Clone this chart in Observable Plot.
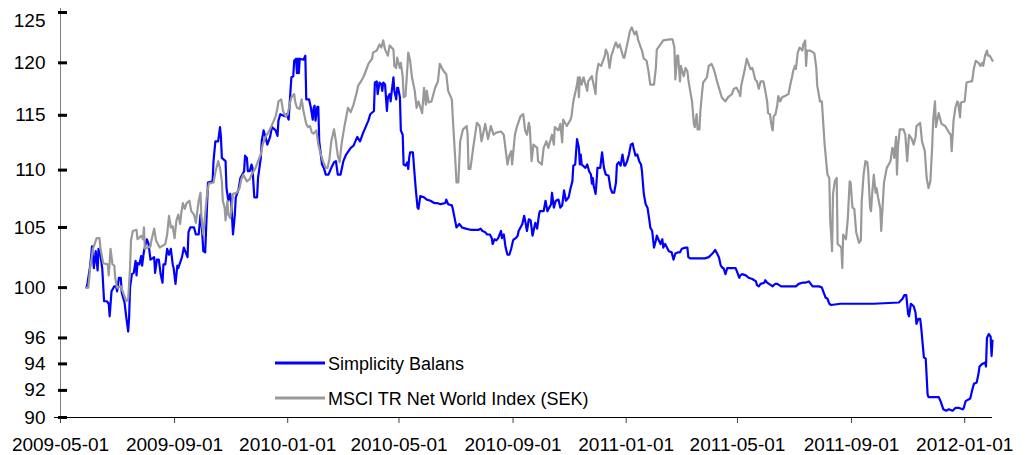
<!DOCTYPE html>
<html><head><meta charset="utf-8">
<script src="https://cdn.jsdelivr.net/npm/d3@7"></script>
<script src="https://cdn.jsdelivr.net/npm/@observablehq/plot@0.6"></script>
<style>
html,body{margin:0;padding:0;background:#fff;}
#chart{width:1029px;height:455px;overflow:hidden;}
</style></head><body><div id="chart"></div>
<script>
// Simplicity Balans (date, index value)
const simplicityBalans = [
["2009-05-29",100.0],["2009-05-30",100.3],["2009-06-02",101.8],["2009-06-04",103.4],["2009-06-06",101.6],["2009-06-08",103.0],["2009-06-10",101.4],["2009-06-11",103.2],["2009-06-13",102.7],["2009-06-15",101.6],
["2009-06-17",98.9],["2009-06-20",98.9],["2009-06-22",98.7],["2009-06-23",97.7],["2009-06-25",99.7],["2009-06-28",100.1],["2009-06-30",100.1],["2009-07-01",99.7],["2009-07-03",100.8],["2009-07-05",100.8],
["2009-07-06",99.6],["2009-07-09",98.8],["2009-07-11",97.6],["2009-07-13",96.5],["2009-07-14",97.6],["2009-07-15",100.0],["2009-07-17",101.1],["2009-07-19",101.2],["2009-07-21",102.2],["2009-07-22",101.0],
["2009-07-23",102.0],["2009-07-25",101.9],["2009-07-27",102.6],["2009-07-28",101.8],["2009-07-30",103.0],["2009-08-02",104.0],["2009-08-04",103.6],["2009-08-06",102.3],["2009-08-10",102.5],["2009-08-11",101.2],
["2009-08-13",102.3],["2009-08-15",102.3],["2009-08-17",101.1],["2009-08-19",100.4],["2009-08-20",101.9],["2009-08-22",101.9],["2009-08-24",103.2],["2009-08-26",102.7],["2009-08-28",103.2],["2009-08-30",101.9],
["2009-08-31",101.6],["2009-09-02",100.3],["2009-09-04",101.8],["2009-09-05",101.6],["2009-09-09",102.5],["2009-09-11",103.3],["2009-09-15",102.5],["2009-09-16",104.6],["2009-09-18",105.0],["2009-09-22",105.0],
["2009-09-24",104.4],["2009-09-27",104.4],["2009-09-29",106.1],["2009-09-30",105.6],["2009-10-02",103.0],["2009-10-04",102.9],["2009-10-07",108.9],["2009-10-12",109.0],["2009-10-13",110.8],["2009-10-15",112.6],
["2009-10-18",112.6],["2009-10-20",113.9],["2009-10-21",113.0],["2009-10-22",111.1],["2009-10-26",110.8],["2009-10-27",108.4],["2009-10-29",107.3],["2009-10-31",107.9],["2009-11-01",107.3],["2009-11-03",104.4],
["2009-11-05",106.1],["2009-11-06",107.6],["2009-11-09",108.3],["2009-11-11",109.3],["2009-11-15",109.9],["2009-11-16",111.3],["2009-11-18",111.1],["2009-11-19",109.9],["2009-11-21",109.9],["2009-11-23",110.5],
["2009-11-24",110.2],["2009-11-26",107.6],["2009-11-29",107.6],["2009-11-30",109.3],["2009-12-03",111.1],["2009-12-04",112.6],["2009-12-06",113.6],["2009-12-08",113.0],["2009-12-10",112.3],["2009-12-13",113.0],
["2009-12-15",113.9],["2009-12-19",113.6],["2009-12-21",113.1],["2009-12-22",114.5],["2009-12-24",115.1],["2009-12-29",114.9],["2009-12-31",115.1],["2010-01-02",114.6],["2010-01-04",117.3],["2010-01-05",118.6],
["2010-01-07",118.7],["2010-01-08",120.2],["2010-01-10",120.4],["2010-01-11",119.0],["2010-01-12",120.4],["2010-01-13",119.0],["2010-01-14",120.4],["2010-01-18",120.3],["2010-01-20",120.7],["2010-01-21",116.5],
["2010-01-24",116.5],["2010-01-26",115.7],["2010-01-28",114.6],["2010-01-29",115.7],["2010-01-30",115.9],["2010-01-31",114.5],["2010-02-02",115.8],["2010-02-03",115.8],["2010-02-04",112.6],["2010-02-07",110.5],
["2010-02-09",110.2],["2010-02-11",109.6],["2010-02-14",109.6],["2010-02-17",110.2],["2010-02-20",110.7],["2010-02-22",110.8],["2010-02-24",109.6],["2010-02-27",109.6],["2010-03-02",110.8],["2010-03-05",111.4],
["2010-03-10",112.0],["2010-03-13",112.2],["2010-03-17",113.0],["2010-03-20",112.6],["2010-03-23",113.3],["2010-03-26",113.9],["2010-03-29",114.5],["2010-03-31",115.1],["2010-04-04",115.4],["2010-04-05",118.1],
["2010-04-07",118.2],["2010-04-08",117.0],["2010-04-10",118.1],["2010-04-12",117.9],["2010-04-13",117.3],["2010-04-14",118.1],["2010-04-16",117.9],["2010-04-18",115.4],["2010-04-19",116.7],["2010-04-21",117.0],
["2010-04-22",116.3],["2010-04-23",117.1],["2010-04-25",118.6],["2010-04-26",117.3],["2010-04-28",116.5],["2010-04-29",117.6],["2010-04-30",117.6],["2010-05-02",116.7],["2010-05-03",113.6],["2010-05-05",113.2],
["2010-05-06",110.5],["2010-05-08",110.4],["2010-05-10",110.7],["2010-05-11",110.1],["2010-05-12",111.1],["2010-05-13",111.6],["2010-05-16",111.6],["2010-05-17",110.5],["2010-05-19",108.4],["2010-05-21",106.7],
["2010-05-22",106.6],["2010-05-24",107.7],["2010-05-28",107.6],["2010-05-31",107.4],["2010-06-04",107.3],["2010-06-08",107.1],["2010-06-11",107.1],["2010-06-15",107.0],["2010-06-20",107.1],["2010-06-21",107.4],
["2010-06-23",107.0],["2010-06-27",106.9],["2010-06-28",106.6],["2010-06-30",105.8],["2010-07-02",105.0],["2010-07-05",105.3],["2010-07-08",105.0],["2010-07-12",104.9],["2010-07-17",104.8],["2010-07-23",104.8],
["2010-07-26",104.8],["2010-07-28",104.9],["2010-07-30",104.7],["2010-08-02",104.6],["2010-08-04",104.4],["2010-08-07",104.4],["2010-08-09",104.1],["2010-08-10",103.6],["2010-08-12",104.0],["2010-08-14",103.9],
["2010-08-16",104.1],["2010-08-19",104.7],["2010-08-20",104.1],["2010-08-22",104.4],["2010-08-24",103.3],["2010-08-26",102.7],["2010-08-28",102.7],["2010-08-30",103.2],["2010-09-01",103.9],["2010-09-02",104.0],
["2010-09-04",104.1],["2010-09-06",104.3],["2010-09-07",104.7],["2010-09-09",105.0],["2010-09-11",105.3],["2010-09-13",106.0],["2010-09-14",105.6],["2010-09-16",104.7],["2010-09-18",105.7],["2010-09-20",105.6],
["2010-09-22",104.3],["2010-09-25",105.4],["2010-09-27",104.9],["2010-09-29",106.1],["2010-09-30",106.4],["2010-10-04",106.4],["2010-10-06",107.3],["2010-10-08",106.4],["2010-10-12",107.0],["2010-10-13",108.0],
["2010-10-15",106.7],["2010-10-17",107.3],["2010-10-20",107.4],["2010-10-22",106.7],["2010-10-24",106.9],["2010-10-26",108.2],["2010-10-28",107.3],["2010-10-31",107.6],["2010-11-02",108.4],["2010-11-04",109.0],
["2010-11-05",110.4],["2010-11-07",110.5],["2010-11-09",112.8],["2010-11-11",112.0],["2010-11-12",110.5],["2010-11-13",111.4],["2010-11-14",110.5],["2010-11-18",110.2],["2010-11-20",110.5],["2010-11-22",109.9],
["2010-11-24",109.6],["2010-11-25",108.8],["2010-11-26",109.3],["2010-11-27",108.6],["2010-11-29",107.9],["2010-11-30",108.9],["2010-12-01",110.2],["2010-12-04",110.2],["2010-12-06",111.6],["2010-12-08",110.2],
["2010-12-10",109.6],["2010-12-13",109.5],["2010-12-15",108.4],["2010-12-17",108.0],["2010-12-19",108.0],["2010-12-21",108.9],["2010-12-22",110.5],["2010-12-24",110.7],["2010-12-26",110.4],["2010-12-28",111.4],
["2010-12-30",110.4],["2010-12-31",110.4],["2011-01-02",110.8],["2011-01-04",111.4],["2011-01-06",112.3],["2011-01-08",112.4],["2011-01-09",112.0],["2011-01-11",111.3],["2011-01-13",111.4],["2011-01-15",110.8],
["2011-01-17",110.5],["2011-01-18",109.9],["2011-01-20",107.9],["2011-01-22",107.0],["2011-01-24",106.7],["2011-01-26",105.6],["2011-01-27",105.0],["2011-01-29",104.7],["2011-01-31",103.3],["2011-02-02",103.9],
["2011-02-03",104.3],["2011-02-07",103.6],["2011-02-09",104.0],["2011-02-10",103.3],["2011-02-12",103.6],["2011-02-16",103.0],["2011-02-19",102.9],["2011-02-21",102.3],["2011-02-23",102.8],["2011-02-26",102.9],
["2011-02-28",102.9],["2011-03-02",103.2],["2011-03-06",103.3],["2011-03-08",103.3],["2011-03-09",102.5],["2011-03-11",102.4],["2011-03-22",102.4],["2011-03-27",102.4],["2011-03-31",102.5],["2011-04-04",102.8],
["2011-04-07",103.1],["2011-04-09",102.8],["2011-04-11",102.5],["2011-04-13",101.8],["2011-04-15",101.6],["2011-04-16",101.6],["2011-04-18",101.1],["2011-04-20",101.6],["2011-04-29",101.6],["2011-04-30",101.4],
["2011-05-03",100.8],["2011-05-04",101.0],["2011-05-06",101.1],["2011-05-10",101.0],["2011-05-13",100.8],["2011-05-17",100.7],["2011-05-21",100.5],["2011-05-22",100.2],["2011-05-24",100.1],["2011-05-26",100.3],
["2011-05-30",100.4],["2011-05-31",100.6],["2011-06-02",100.4],["2011-06-04",100.3],["2011-06-06",100.2],["2011-06-08",100.1],["2011-06-09",100.2],["2011-06-11",100.3],["2011-06-13",100.3],["2011-06-17",100.1],
["2011-07-03",100.1],["2011-07-06",100.3],["2011-07-10",100.4],["2011-07-13",100.4],["2011-07-17",100.5],["2011-07-19",100.3],["2011-07-21",100.1],["2011-07-24",100.1],["2011-07-26",100.1],["2011-07-28",100.1],
["2011-07-31",100.0],["2011-08-02",99.6],["2011-08-04",99.2],["2011-08-06",99.1],["2011-08-08",98.7],["2011-08-10",98.6],["2011-08-20",98.7],["2011-09-25",98.7],["2011-10-22",98.8],["2011-10-26",99.1],
["2011-10-28",99.4],["2011-10-30",99.4],["2011-11-01",97.9],["2011-11-02",97.7],["2011-11-04",98.7],["2011-11-07",98.5],["2011-11-09",98.0],["2011-11-10",97.1],["2011-11-12",97.5],["2011-11-14",97.5],
["2011-11-15",96.9],["2011-11-18",94.5],["2011-11-20",94.4],["2011-11-22",91.7],["2011-11-23",91.5],["2011-12-02",91.5],["2011-12-04",91.5],["2011-12-06",91.2],["2011-12-09",90.6],["2011-12-12",90.5],
["2011-12-15",90.6],["2011-12-19",90.5],["2011-12-22",90.7],["2011-12-26",90.7],["2011-12-30",90.6],["2011-12-31",90.7],["2012-01-02",91.2],["2012-01-07",91.4],["2012-01-09",92.0],["2012-01-11",92.5],
["2012-01-14",92.6],["2012-01-16",93.3],["2012-01-17",93.8],["2012-01-20",94.0],["2012-01-23",94.1],["2012-01-24",93.8],["2012-01-25",96.0],["2012-01-27",96.3],["2012-01-29",96.1],["2012-01-30",94.6],
["2012-01-31",95.8]
];

// MSCI TR Net World Index (SEK) (date, index value)
const msciWorld = [
["2009-05-29",100.0],["2009-05-31",100.0],["2009-06-02",101.6],["2009-06-05",103.2],["2009-06-09",104.1],["2009-06-12",104.1],["2009-06-13",103.3],["2009-06-16",102.0],["2009-06-21",101.9],["2009-06-22",101.0],
["2009-06-24",103.2],["2009-06-26",101.9],["2009-06-28",101.8],["2009-06-29",100.8],["2009-07-01",100.0],["2009-07-05",100.1],["2009-07-08",99.5],["2009-07-11",98.9],["2009-07-13",99.1],["2009-07-15",101.6],
["2009-07-16",103.9],["2009-07-18",104.7],["2009-07-22",104.8],["2009-07-23",104.0],["2009-07-27",104.3],["2009-07-29",104.0],["2009-07-30",105.0],["2009-07-31",103.2],["2009-08-06",103.4],["2009-08-07",103.9],
["2009-08-10",104.9],["2009-08-12",103.9],["2009-08-16",103.3],["2009-08-22",103.6],["2009-08-24",104.4],["2009-08-26",106.0],["2009-08-28",105.0],["2009-08-30",105.1],["2009-09-01",104.1],["2009-09-03",105.6],
["2009-09-05",106.1],["2009-09-07",105.3],["2009-09-08",106.1],["2009-09-10",107.1],["2009-09-12",106.6],["2009-09-14",107.1],["2009-09-17",107.3],["2009-09-19",106.4],["2009-09-22",106.1],["2009-09-24",105.4],
["2009-09-27",107.3],["2009-09-29",108.0],["2009-09-30",105.8],["2009-10-02",104.4],["2009-10-06",107.9],["2009-10-08",108.8],["2009-10-13",108.9],["2009-10-15",109.8],["2009-10-18",110.8],["2009-10-20",110.2],
["2009-10-22",109.0],["2009-10-23",107.3],["2009-10-25",106.7],["2009-10-26",105.6],["2009-10-28",107.3],["2009-10-29",106.1],["2009-10-31",105.8],["2009-11-02",107.0],["2009-11-03",107.9],["2009-11-07",108.0],
["2009-11-10",108.4],["2009-11-12",109.2],["2009-11-14",109.6],["2009-11-18",109.0],["2009-11-21",109.2],["2009-11-23",109.6],["2009-11-27",110.1],["2009-11-30",110.8],["2009-12-03",111.4],["2009-12-05",112.3],
["2009-12-08",113.0],["2009-12-11",113.4],["2009-12-14",113.9],["2009-12-16",114.3],["2009-12-19",114.9],["2009-12-21",115.7],["2009-12-22",116.3],["2009-12-25",116.5],["2009-12-27",115.4],["2009-12-30",114.9],
["2010-01-01",115.1],["2010-01-03",116.0],["2010-01-05",116.7],["2010-01-08",117.0],["2010-01-09",116.3],["2010-01-11",115.7],["2010-01-14",115.6],["2010-01-16",116.5],["2010-01-18",115.4],["2010-01-21",114.2],
["2010-01-23",113.9],["2010-01-25",114.0],["2010-01-27",113.4],["2010-01-29",113.3],["2010-02-01",113.6],["2010-02-03",112.3],["2010-02-05",111.6],["2010-02-08",110.8],["2010-02-11",110.2],["2010-02-13",110.2],
["2010-02-15",111.0],["2010-02-17",112.6],["2010-02-20",113.7],["2010-02-22",112.6],["2010-02-24",111.3],["2010-02-26",110.7],["2010-02-28",112.3],["2010-03-03",113.9],["2010-03-05",114.8],["2010-03-07",115.7],
["2010-03-10",115.3],["2010-03-13",116.0],["2010-03-16",117.0],["2010-03-18",117.8],["2010-03-21",118.2],["2010-03-24",118.7],["2010-03-27",119.4],["2010-03-29",119.9],["2010-04-02",120.4],["2010-04-03",121.0],
["2010-04-07",121.2],["2010-04-10",121.8],["2010-04-12",121.5],["2010-04-14",122.2],["2010-04-16",121.3],["2010-04-19",120.7],["2010-04-21",121.7],["2010-04-25",121.3],["2010-04-26",119.7],["2010-04-28",119.5],
["2010-04-29",120.5],["2010-05-02",119.5],["2010-05-03",120.0],["2010-05-05",118.7],["2010-05-06",116.7],["2010-05-08",116.8],["2010-05-10",119.5],["2010-05-11",121.0],["2010-05-13",120.2],["2010-05-15",118.6],
["2010-05-18",117.3],["2010-05-20",115.7],["2010-05-22",116.3],["2010-05-26",115.2],["2010-05-28",117.6],["2010-05-30",116.0],["2010-05-31",117.3],["2010-06-02",116.2],["2010-06-05",116.3],["2010-06-09",117.6],
["2010-06-12",118.2],["2010-06-14",119.9],["2010-06-18",119.2],["2010-06-21",118.9],["2010-06-23",117.3],["2010-06-27",116.5],["2010-06-28",114.8],["2010-07-01",110.5],["2010-07-02",108.9],["2010-07-04",108.9],
["2010-07-06",112.6],["2010-07-09",113.7],["2010-07-13",114.0],["2010-07-14",113.2],["2010-07-15",110.1],["2010-07-17",110.1],["2010-07-20",112.0],["2010-07-24",114.3],["2010-07-27",114.0],["2010-07-29",112.6],
["2010-08-02",114.2],["2010-08-05",112.8],["2010-08-08",114.0],["2010-08-11",113.2],["2010-08-14",113.4],["2010-08-19",113.5],["2010-08-22",113.2],["2010-08-26",110.5],["2010-08-28",111.3],["2010-08-30",111.7],
["2010-08-31",110.5],["2010-09-03",113.2],["2010-09-05",113.9],["2010-09-09",114.9],["2010-09-12",115.1],["2010-09-14",113.6],["2010-09-16",113.2],["2010-09-18",114.3],["2010-09-19",113.9],["2010-09-21",110.8],
["2010-09-23",112.3],["2010-09-27",112.0],["2010-09-28",110.8],["2010-10-02",110.5],["2010-10-04",112.0],["2010-10-07",112.6],["2010-10-09",112.0],["2010-10-13",113.2],["2010-10-15",112.3],["2010-10-16",113.9],
["2010-10-20",113.6],["2010-10-22",114.2],["2010-10-24",112.5],["2010-10-25",114.6],["2010-10-29",114.0],["2010-11-02",114.6],["2010-11-03",114.9],["2010-11-05",116.3],["2010-11-09",117.9],["2010-11-10",118.6],
["2010-11-11",116.7],["2010-11-12",118.6],["2010-11-14",117.9],["2010-11-16",118.6],["2010-11-20",117.3],["2010-11-21",118.2],["2010-11-25",118.7],["2010-11-29",117.0],["2010-11-30",118.9],["2010-12-02",119.9],
["2010-12-05",119.7],["2010-12-09",120.7],["2010-12-10",121.3],["2010-12-12",120.9],["2010-12-14",119.5],["2010-12-16",120.7],["2010-12-20",121.8],["2010-12-21",122.0],["2010-12-23",121.5],["2010-12-25",121.8],
["2010-12-29",120.5],["2010-12-30",120.5],["2011-01-03",122.2],["2011-01-05",123.1],["2011-01-07",123.5],["2011-01-10",122.8],["2011-01-12",123.1],["2011-01-14",122.2],["2011-01-18",121.2],["2011-01-20",120.4],
["2011-01-23",120.2],["2011-01-25",119.2],["2011-01-27",117.9],["2011-01-31",117.9],["2011-02-02",119.5],["2011-02-03",121.3],["2011-02-07",121.8],["2011-02-10",122.2],["2011-02-17",122.3],["2011-02-20",122.3],
["2011-02-22",121.5],["2011-02-23",118.4],["2011-02-25",120.7],["2011-02-26",120.7],["2011-02-28",118.2],["2011-03-01",119.7],["2011-03-04",118.7],["2011-03-06",119.5],["2011-03-08",119.2],["2011-03-09",118.4],
["2011-03-11",117.3],["2011-03-13",116.3],["2011-03-15",114.2],["2011-03-16",113.9],["2011-03-18",115.1],["2011-03-19",113.7],["2011-03-21",113.7],["2011-03-22",115.4],["2011-03-24",117.3],["2011-03-25",118.1],
["2011-03-29",118.6],["2011-03-31",119.7],["2011-04-03",119.9],["2011-04-05",119.5],["2011-04-07",118.9],["2011-04-09",118.2],["2011-04-12",117.3],["2011-04-14",116.7],["2011-04-18",116.3],["2011-04-21",116.7],
["2011-04-25",117.0],["2011-04-27",117.5],["2011-04-30",117.6],["2011-05-03",117.1],["2011-05-04",116.8],["2011-05-05",117.8],["2011-05-08",119.0],["2011-05-10",119.9],["2011-05-11",120.4],["2011-05-13",119.9],
["2011-05-15",119.4],["2011-05-17",119.5],["2011-05-18",119.2],["2011-05-20",118.4],["2011-05-22",118.2],["2011-05-24",117.5],["2011-05-26",118.2],["2011-05-29",118.2],["2011-05-31",117.3],["2011-06-02",116.3],
["2011-06-03",115.2],["2011-06-05",115.1],["2011-06-07",113.9],["2011-06-08",113.6],["2011-06-09",114.9],["2011-06-11",115.1],["2011-06-13",116.0],["2011-06-14",116.8],["2011-06-16",116.3],["2011-06-18",116.7],
["2011-06-21",116.8],["2011-06-25",117.0],["2011-06-27",117.9],["2011-06-29",118.7],["2011-06-30",119.2],["2011-07-02",119.7],["2011-07-03",119.4],["2011-07-05",121.0],["2011-07-07",121.5],["2011-07-10",121.2],
["2011-07-11",121.8],["2011-07-13",122.2],["2011-07-14",119.7],["2011-07-15",121.2],["2011-07-18",121.2],["2011-07-22",121.0],["2011-07-23",120.9],["2011-07-25",119.5],["2011-07-26",117.8],["2011-07-27",117.3],
["2011-07-29",116.3],["2011-07-31",116.3],["2011-08-02",113.6],["2011-08-03",112.3],["2011-08-05",110.5],["2011-08-06",109.6],["2011-08-08",109.3],["2011-08-09",105.6],["2011-08-10",104.4],["2011-08-11",103.0],
["2011-08-12",107.9],["2011-08-14",109.0],["2011-08-16",109.3],["2011-08-17",103.6],["2011-08-21",103.3],["2011-08-22",101.6],["2011-08-23",104.4],["2011-08-26",104.0],["2011-08-28",105.8],["2011-08-30",109.0],
["2011-08-31",108.9],["2011-09-02",106.7],["2011-09-04",106.6],["2011-09-06",104.6],["2011-09-09",103.7],["2011-09-11",103.9],["2011-09-12",107.3],["2011-09-14",109.6],["2011-09-16",110.8],["2011-09-18",110.7],
["2011-09-19",109.9],["2011-09-21",106.7],["2011-09-22",106.4],["2011-09-23",107.6],["2011-09-25",109.6],["2011-09-27",108.0],["2011-09-28",108.4],["2011-09-30",107.4],["2011-10-02",106.6],["2011-10-03",104.7],
["2011-10-04",106.1],["2011-10-06",108.9],["2011-10-09",110.2],["2011-10-13",110.8],["2011-10-15",112.0],["2011-10-16",111.9],["2011-10-17",111.1],["2011-10-19",113.0],["2011-10-20",109.6],["2011-10-21",112.0],
["2011-10-23",113.7],["2011-10-27",113.7],["2011-10-29",113.2],["2011-10-31",110.8],["2011-11-02",113.2],["2011-11-05",112.8],["2011-11-07",112.3],["2011-11-09",113.0],["2011-11-10",114.0],["2011-11-14",114.3],
["2011-11-16",112.6],["2011-11-19",111.7],["2011-11-21",109.3],["2011-11-23",108.4],["2011-11-25",109.0],["2011-11-27",112.2],["2011-11-28",114.5],["2011-11-30",116.3],["2011-12-01",113.9],["2011-12-04",115.2],
["2011-12-07",114.2],["2011-12-11",114.0],["2011-12-15",113.4],["2011-12-17",113.2],["2011-12-18",111.7],["2011-12-20",114.5],["2011-12-22",115.7],["2011-12-24",116.3],["2011-12-25",116.2],["2011-12-27",114.8],
["2011-12-28",116.2],["2012-01-01",116.3],["2012-01-03",118.1],["2012-01-07",118.2],["2012-01-09",118.2],["2012-01-11",119.5],["2012-01-13",120.2],["2012-01-16",120.0],["2012-01-18",119.7],["2012-01-20",120.0],
["2012-01-21",119.7],["2012-01-23",120.7],["2012-01-25",121.2],["2012-01-26",120.7],["2012-01-28",120.7],["2012-01-31",120.2]
];

const seriesNames = ["Simplicity Balans", "MSCI TR Net World Index (SEK)"];
const seriesColors = ["#0000ff", "#999999"];
const yTickValues = [90, 92, 94, 96, 100, 105, 110, 115, 120, 125];
const xTickLabels = ["2009-05-01","2009-09-01","2010-01-01","2010-05-01","2010-09-01","2011-01-01","2011-05-01","2011-09-01","2012-01-01"];
const xDomainLabels = ["2009-05-01", "2012-01-31"];
const yDomain = [90, 125];

const parse = d3.utcParse("%Y-%m-%d");
const toRows = (arr, name) => arr.map(([d, v]) => ({date: parse(d), value: v, series: name}));
const rowsA = toRows(simplicityBalans, seriesNames[0]);
const rowsB = toRows(msciWorld, seriesNames[1]);

const font = "'Liberation Sans', Arial, Helvetica, sans-serif";
const fmtDate = d3.utcFormat("%Y-%m-%d");

const chart = Plot.plot({
  width: 1029,
  height: 455,
  marginLeft: 60,
  marginRight: 37,
  marginTop: 12,
  marginBottom: 38,
  style: {fontFamily: font, fontSize: "19px", color: "#000", background: "#fff", overflow: "visible"},
  x: {type: "utc", domain: xDomainLabels.map(parse)},
  y: {type: "log", domain: yDomain},
  marks: [
    Plot.ruleX([parse(xDomainLabels[0])], {stroke: "#7f7f7f", strokeWidth: 1, insetTop: -4}),
    Plot.axisY(yTickValues.filter(v => v !== yDomain[1]), {tickSize: 0, tickPadding: 15, tickFormat: d => String(d), fill: "#000", label: null}),
    Plot.axisY([yDomain[1]], {tickSize: 0, tickPadding: 15, dy: 8, tickFormat: d => String(d), fill: "#000", label: null}),
    Plot.axisY(yTickValues, {tickSize: 9, dx: 7, fill: "none", stroke: "#000", strokeWidth: 3, label: null}),
    Plot.axisX(xTickLabels.map(parse), {tickSize: 6, tickPadding: 14, tickFormat: fmtDate, stroke: "#444", fill: "#000", label: null}),
    Plot.ruleY([yDomain[0]], {stroke: "#000", strokeWidth: 1, insetLeft: -6}),
    Plot.line(rowsA, {x: "date", y: "value", stroke: seriesColors[0], strokeWidth: 2.2, strokeLinejoin: "round"}),
    Plot.line(rowsB, {x: "date", y: "value", stroke: seriesColors[1], strokeWidth: 2.2, strokeLinejoin: "round"})
  ]
});
document.getElementById("chart").appendChild(chart);

// Legend (inside the plot area, lower middle)
const legendLayout = {x0: 275, x1: 325, textX: 328, rows: [363, 398]};
const lg = d3.select(chart).append("g")
  .attr("font-family", font).attr("font-size", 18).attr("fill", "#000")
  .attr("text-anchor", "start");
seriesNames.forEach((name, i) => {
  const y = legendLayout.rows[i];
  lg.append("line").attr("x1", legendLayout.x0).attr("x2", legendLayout.x1)
    .attr("y1", y).attr("y2", y).attr("stroke", seriesColors[i]).attr("stroke-width", 3);
  lg.append("text").attr("x", legendLayout.textX).attr("y", y + 6.5)
    .attr("text-anchor", "start").text(name);
});
</script>
</body></html>
